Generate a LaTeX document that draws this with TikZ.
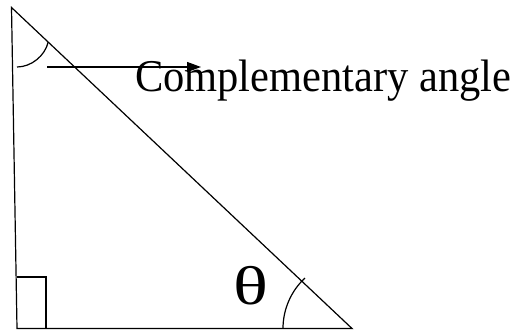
\documentclass[tikz,border=0pt]{standalone}
\usepackage{fontspec}
\setmainfont{Liberation Serif}
\usetikzlibrary{arrows.meta}
\begin{document}
\begin{tikzpicture}[x=1pt,y=-1pt,line width=1.2pt,
  edge/.style={draw=black,line join=miter},
  lbl/.style={inner sep=0pt,outer sep=0pt}]
\useasboundingbox (0,0) rectangle (516,329);
\coordinate (A) at (11.5,7.5);
\coordinate (B) at (17,328.5);
\coordinate (C) at (352,328.5);
\draw[edge] (A) -- (B) -- (C) -- cycle;
% right angle mark
\coordinate (R1) at (17,277);
\coordinate (R2) at (46,277);
\coordinate (R3) at (46,328.5);
\draw[edge] (R1) -- (R2) -- (R3);
% top arc
\coordinate (T1) at (17,67);
\coordinate (T2) at (48.2,42);
\draw (T1) .. controls (31,67) and (45,56) .. (T2);
% bottom arc
\draw (C) ++(180:69) arc[start angle=180,end angle=227,radius=69];
% arrow
\coordinate (S) at (47,67);
\coordinate (E) at (201,67);
\draw[-{Triangle[length=14pt,width=10pt]}] (S) -- (E);
\node[lbl,anchor=base west,font=\fontsize{42.5}{47}\selectfont] (txt) at (135,91) {\scalebox{1}[1.07]{Complementary angle}};
\node[lbl,anchor=center,font=\fontsize{52}{56}\selectfont] (th) at (250.5,285.5) {\scalebox{1.4}[1.05]{θ}};
\end{tikzpicture}
\end{document}
